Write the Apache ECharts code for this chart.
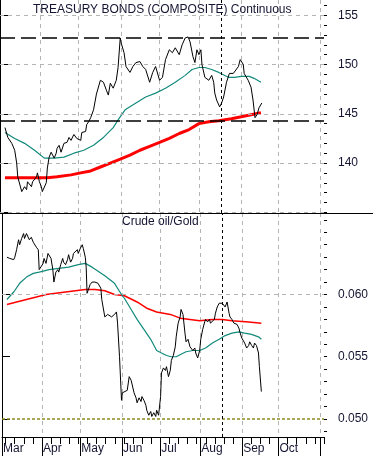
<!DOCTYPE html>
<html><head><meta charset="utf-8">
<script src="https://cdn.jsdelivr.net/npm/echarts@6/dist/echarts.min.js"></script>
<style>html,body{margin:0;padding:0;background:#fff}#c{width:373px;height:457px}</style>
</head><body><div id="c"></div>
<script>
// ---- x categories: weekday sessions from 2012-03-01 ----
const sessionStart = [2012, 2, 1];
const sessionCount = 178;
const monthNames = ['Jan','Feb','Mar','Apr','May','Jun','Jul','Aug','Sep','Oct','Nov','Dec'];
const labelledMonths = ['Mar','Apr','May','Jun','Jul','Aug','Sep','Oct'];
const markerDate = '2012-08-17';

// ---- Treasury bonds (composite) ----
const bondX = [2.71,4.28,6.45,8.03,9.11,9.70,11.87,12.37,13.45,14.53,15.03,17.19,17.79,19.95,20.45,21.53,22.62,23.11,24.19,25.28,25.87,26.85,27.94,28.53,29.61,30.70,31.19,32.27,33.36,34.94,36.61,37.70,38.78,40.36,41.93,44.10,44.69,45.78,46.76,47.35,48.44,49.52,51.10,52.68,54.84,56.52,58.10,59.18,60.27,61.84,63.52,64.50,65.69,66.18,67.76,68.84,71.01,72.59,74.26,76.43,78.01,79.58,81.75,83.43,85.00,87.17,88.75,90.42,92.50,94.17,95.75,97.92,99.49,101.17,102.75,103.83,105.41,106.49,107.57,108.66,109.74,110.33,111.91,114.08,115.66,116.74,117.33,118.32,119.99,121.08,122.16,123.74,125.31,127.48,128.07,130.24,131.23,132.90,133.39,135.57,137.14,138.22,139.31,140.39,141.48,143.05];
const bondY = [143.6,142.6,142.0,141.3,140.0,138.6,137.1,137.0,137.6,137.3,138.1,137.6,138.1,138.6,139.0,138.1,137.6,137.1,137.3,138.0,139.5,140.6,141.1,141.3,140.5,141.0,141.5,141.8,141.1,142.0,142.1,142.6,142.3,142.9,142.5,142.3,143.1,142.9,143.2,143.9,144.2,144.6,145.4,147.0,148.4,148.2,147.4,146.9,148.1,147.6,148.4,149.7,152.7,152.2,151.2,149.8,149.2,149.8,150.2,150.3,149.8,149.5,148.2,149.2,149.8,148.4,148.7,150.5,151.5,151.2,151.7,151.0,152.0,152.7,152.8,152.3,150.8,150.2,151.5,151.0,151.5,150.0,148.7,148.4,148.9,148.2,147.1,146.4,145.7,146.1,146.7,148.2,149.1,149.1,149.2,149.8,150.5,150.0,149.1,148.4,147.7,146.4,144.6,144.9,145.6,146.1];
const bondMa50X = [2.71,8.03,13.45,18.87,24.19,29.61,34.94,40.36,45.78,51.10,56.52,61.84,64.60,68.35,74.26,79.58,85.00,90.42,95.75,101.17,104.91,108.66,111.91,115.66,119.50,124.82,128.07,131.82,136.16,138.81,142.56];
const bondMa50Y = [143.1,142.5,142.0,141.3,140.5,140.5,140.6,141.0,141.3,141.8,142.6,143.6,144.4,145.4,146.1,146.7,147.1,147.6,148.2,148.9,149.5,149.7,149.7,149.5,149.2,148.7,148.7,148.8,148.8,148.6,148.2];
const bondMa200X = [2.71,9.70,20.45,25.87,31.19,38.78,44.10,49.52,54.84,60.27,65.69,71.01,76.43,81.75,87.17,92.50,97.92,103.33,108.66,114.08,119.50,126.40,131.82,137.14,142.56];
const bondMa200Y = [138.5,138.5,138.5,138.5,138.6,138.8,139.0,139.2,139.6,140.0,140.4,140.8,141.3,141.7,142.1,142.5,143.0,143.4,144.0,144.2,144.3,144.5,144.7,144.9,145.1];
const bondLevels = [152.7, 144.3];
const bondGrid = [135,140,145,150,155];
const bondLabels = [140,145,150,155];
const bondMinor = [135,136,137,138,139,140,141,142,143,144,145,146,147,148,149,150,151,152,153,154,155,156];
const bondRange = [134.93, 156.55];

// ---- Crude oil / Gold ----
const ratioX = [2.71,4.28,6.45,7.04,8.03,9.11,9.70,10.79,11.87,12.37,13.45,14.53,15.03,16.11,17.19,18.87,19.95,20.45,21.53,22.62,23.11,24.19,25.28,25.87,26.95,27.94,28.53,29.61,30.70,31.19,32.27,33.36,33.85,34.94,36.02,36.61,37.70,38.78,39.27,40.36,41.44,41.93,43.02,44.10,44.69,45.78,46.27,46.76,47.35,48.44,49.52,51.10,52.77,54.35,54.84,56.52,58.10,60.27,61.84,62.93,63.52,64.60,65.69,66.18,67.26,68.84,69.92,71.01,72.59,73.67,74.26,75.35,76.43,76.92,78.01,79.09,79.58,80.67,81.75,82.34,83.43,84.51,85.00,86.09,87.17,87.67,88.75,89.83,90.42,91.51,92.50,93.09,94.17,95.25,95.75,96.83,97.92,98.41,99.49,100.58,101.17,102.25,103.33,104.91,105.99,106.49,107.57,108.66,109.25,110.33,111.42,111.91,112.99,114.08,114.57,115.66,116.74,117.33,118.32,119.40,119.99,121.08,122.16,122.65,123.74,124.82,125.31,126.40,127.48,128.07,129.16,130.24,130.73,131.82,132.90,133.39,134.48,135.57,136.16,137.24,138.22,138.81,139.90,140.98,141.48,142.56];
const ratioY = [0.0630,0.0629,0.0628,0.0630,0.0636,0.0644,0.0640,0.0645,0.0649,0.0645,0.0649,0.0650,0.0644,0.0646,0.0642,0.0638,0.0636,0.0620,0.0621,0.0625,0.0629,0.0625,0.0633,0.0634,0.0629,0.0620,0.0610,0.0618,0.0620,0.0618,0.0624,0.0629,0.0626,0.0624,0.0628,0.0632,0.0626,0.0629,0.0633,0.0632,0.0636,0.0633,0.0637,0.0640,0.0637,0.0630,0.0622,0.0601,0.0600,0.0608,0.0610,0.0610,0.0609,0.0605,0.0596,0.0582,0.0584,0.0582,0.0584,0.0586,0.0577,0.0550,0.0515,0.0521,0.0522,0.0523,0.0534,0.0531,0.0521,0.0517,0.0513,0.0517,0.0514,0.0518,0.0515,0.0511,0.0507,0.0503,0.0506,0.0502,0.0505,0.0502,0.0507,0.0503,0.0518,0.0537,0.0541,0.0539,0.0542,0.0534,0.0539,0.0547,0.0551,0.0558,0.0566,0.0577,0.0582,0.0588,0.0584,0.0569,0.0562,0.0564,0.0558,0.0555,0.0557,0.0553,0.0549,0.0555,0.0564,0.0572,0.0578,0.0580,0.0578,0.0580,0.0577,0.0576,0.0580,0.0585,0.0590,0.0593,0.0594,0.0593,0.0594,0.0590,0.0594,0.0585,0.0582,0.0580,0.0577,0.0578,0.0576,0.0573,0.0570,0.0565,0.0564,0.0561,0.0557,0.0559,0.0562,0.0559,0.0557,0.0561,0.0559,0.0553,0.0542,0.0522];
const ratioMa50X = [2.71,6.45,9.70,13.45,17.19,20.45,25.87,31.19,36.61,41.93,45.78,49.52,56.52,61.84,65.69,67.26,71.01,74.26,78.01,81.75,85.00,87.67,90.42,93.09,95.75,98.41,101.17,104.91,108.66,111.91,115.66,119.40,122.65,126.40,130.24,133.39,137.14,140.98,142.56];
const ratioMa50Y = [0.0596,0.0602,0.0609,0.0614,0.0617,0.0618,0.0620,0.0621,0.0622,0.0624,0.0625,0.0622,0.0615,0.0609,0.0600,0.0597,0.0588,0.0580,0.0572,0.0564,0.0555,0.0553,0.0551,0.0550,0.0550,0.0552,0.0554,0.0555,0.0555,0.0557,0.0561,0.0564,0.0567,0.0569,0.0570,0.0569,0.0568,0.0566,0.0564];
const ratioMa200X = [2.71,8.03,13.45,18.87,24.19,29.61,34.94,40.36,45.78,51.10,56.52,61.84,67.26,74.26,79.58,85.00,92.50,97.92,103.33,108.66,115.66,121.08,126.40,135.57,142.56];
const ratioMa200Y = [0.0592,0.0594,0.0596,0.0598,0.0600,0.0601,0.0602,0.0603,0.0604,0.0604,0.0603,0.0600,0.0599,0.0594,0.0589,0.0586,0.0584,0.0581,0.0580,0.0579,0.0580,0.0580,0.0579,0.0578,0.0577];
const ratioGrid = [0.055, 0.060];
const ratioFloor = 0.050;
const ratioLabels = [0.050, 0.055, 0.060];
const ratioMinor = [0.049,0.050,0.051,0.052,0.053,0.054,0.055,0.056,0.057,0.058,0.059,0.060,0.061,0.062,0.063,0.064,0.065,0.066];
const ratioRange = [0.04855, 0.06655];

// ---- build ----
const cats = [];
{
  const d = new Date(Date.UTC(sessionStart[0], sessionStart[1], sessionStart[2]));
  while (cats.length < sessionCount) {
    const w = d.getUTCDay();
    if (w !== 0 && w !== 6) cats.push(d.toISOString().slice(0, 10));
    d.setUTCDate(d.getUTCDate() + 1);
  }
}
const monthOf = (s) => monthNames[parseInt(s.slice(5, 7), 10) - 1];
const isMonthStart = (i) => i === 0 || cats[i].slice(5, 7) !== cats[i - 1].slice(5, 7);
const isLabelled = (i) => isMonthStart(i) && labelledMonths.indexOf(monthOf(cats[i])) >= 0;
const isMonday = (i) => new Date(cats[i] + 'T00:00:00Z').getUTCDay() === 1;
const markerIdx = cats.indexOf(markerDate);
const zip = (xs, ys) => xs.map((x, i) => [x, ys[i]]);

const FONT = '"Liberation Sans", Arial, sans-serif';
const TXT = '#141432';
const GRID_GRAY = '#b4b4b4';
const TEAL = '#128a7c';
const RED = '#ff0000';

const gridLine = { color: GRID_GRAY, type: [4, 4], width: 1 };
const noLabel = { show: false };

function lineSeries(name, xi, yi, xs, ys, color, width, z, extra) {
  return Object.assign({
    name, type: 'line', xAxisIndex: xi, yAxisIndex: yi, data: zip(xs, ys),
    showSymbol: false, symbol: 'none', animation: false, silent: true, z,
    lineStyle: { color, width }
  }, extra || {});
}

const vMarker = {
  silent: true, symbol: ['none', 'none'], animation: false, label: noLabel,
  lineStyle: { color: '#000', type: [3, 3], width: 1 },
  data: [{ xAxis: markerIdx }]
};

const option = {
  animation: false,
  backgroundColor: '#fff',
  title: [
    { text: 'TREASURY BONDS (COMPOSITE) Continuous', left: 33, top: 4, padding: 0,
      textStyle: { fontFamily: FONT, fontSize: 12, fontWeight: 'normal', color: TXT } },
    { text: 'Crude oil/Gold', left: 122, top: 216, padding: 0,
      textStyle: { fontFamily: FONT, fontSize: 12, fontWeight: 'normal', color: TXT } }
  ],
  grid: [
    { left: -5, right: 49, top: 0, height: 213 },
    { left: -5, right: 49, top: 213, height: 224 }
  ],
  xAxis: [
    { type: 'value', gridIndex: 0, min: 0, max: sessionCount - 1, show: false, position: 'bottom' },
    { type: 'category', gridIndex: 0, data: cats, boundaryGap: false, position: 'bottom',
      axisLine: { show: false }, axisTick: { show: false }, axisLabel: { show: false },
      splitLine: { show: true, interval: (i) => isMonthStart(i), lineStyle: gridLine } },
    { type: 'value', gridIndex: 1, min: 0, max: sessionCount - 1, show: false, position: 'bottom' },
    { type: 'category', gridIndex: 1, data: cats, boundaryGap: false, position: 'bottom',
      axisLine: { show: true, lineStyle: { color: '#000', width: 1 } },
      axisTick: { show: true, interval: (i) => isMonthStart(i), length: 19, lineStyle: { color: '#000', width: 1 } },
      axisLabel: { show: true, interval: (i) => isLabelled(i), align: 'left', margin: 6, padding: [0, 0, 0, 1],
        fontFamily: FONT, fontSize: 12, color: TXT,
        formatter: (v) => monthOf(v) },
      splitLine: { show: true, interval: (i) => isMonthStart(i), lineStyle: gridLine } },
    { type: 'category', gridIndex: 1, data: cats, boundaryGap: false, position: 'bottom',
      axisLine: { show: false },
      axisTick: { show: true, interval: (i) => isMonday(i), length: 7, lineStyle: { color: '#000', width: 1 } },
      axisLabel: { show: false }, splitLine: { show: false } }
  ],
  yAxis: [
    { type: 'value', gridIndex: 0, position: 'right', min: bondRange[0], max: bondRange[1],
      axisLine: { show: true, lineStyle: { color: '#000', width: 1 } },
      axisTick: { show: true, customValues: bondGrid, length: 8, lineStyle: { color: '#000' } },
      axisLabel: { show: true, customValues: bondLabels, margin: 14, fontFamily: FONT, fontSize: 12, color: TXT,
        formatter: (v) => String(Math.round(v)) },
      splitLine: { show: false } },
    { type: 'value', gridIndex: 0, position: 'right', min: bondRange[0], max: bondRange[1],
      axisLine: { show: false },
      axisTick: { show: true, customValues: bondMinor, length: 3, lineStyle: { color: '#000' } },
      axisLabel: { show: false }, splitLine: { show: false } },
    { type: 'value', gridIndex: 1, position: 'right', min: ratioRange[0], max: ratioRange[1],
      axisLine: { show: true, lineStyle: { color: '#000', width: 1 } },
      axisTick: { show: true, customValues: ratioLabels, length: 8, lineStyle: { color: '#000' } },
      axisLabel: { show: true, customValues: ratioLabels, margin: 14, fontFamily: FONT, fontSize: 12, color: TXT,
        formatter: (v) => v.toFixed(3) },
      splitLine: { show: false } },
    { type: 'value', gridIndex: 1, position: 'right', min: ratioRange[0], max: ratioRange[1],
      axisLine: { show: false },
      axisTick: { show: true, customValues: ratioMinor, length: 3, lineStyle: { color: '#000' } },
      axisLabel: { show: false }, splitLine: { show: false } }
  ],
  series: [
    { type: 'line', xAxisIndex: 0, yAxisIndex: 0, data: [], z: 1, silent: true,
      markLine: { silent: true, symbol: ['none', 'none'], animation: false, label: noLabel,
        lineStyle: gridLine, data: bondGrid.map((v) => ({ yAxis: v })) } },
    { type: 'line', xAxisIndex: 2, yAxisIndex: 2, data: [], z: 1, silent: true,
      markLine: { silent: true, symbol: ['none', 'none'], animation: false, label: noLabel,
        data: ratioGrid.map((v) => ({ yAxis: v, lineStyle: gridLine }))
          .concat([{ yAxis: ratioFloor, lineStyle: { color: '#8a8a1e', type: [3, 2], width: 1.5 } }]) } },
    lineSeries('Bond MA200', 0, 0, bondMa200X, bondMa200Y, RED, 3, 3),
    lineSeries('Bond MA50', 0, 0, bondMa50X, bondMa50Y, TEAL, 1.2, 4),
    lineSeries('Treasury Bonds', 0, 0, bondX, bondY, '#000', 1, 5, {
      markLine: {
        silent: true, symbol: ['none', 'none'], animation: false, label: noLabel,
        data: bondLevels.map((v) => ({ yAxis: v, lineStyle: { color: '#000', type: [15, 6], width: 1.5 } }))
          .concat([{ xAxis: markerIdx, lineStyle: { color: '#000', type: [3, 3], width: 1 } }])
      }
    }),
    lineSeries('Ratio MA200', 2, 2, ratioMa200X, ratioMa200Y, RED, 1.5, 3),
    lineSeries('Ratio MA50', 2, 2, ratioMa50X, ratioMa50Y, TEAL, 1.2, 4),
    lineSeries('Crude oil/Gold', 2, 2, ratioX, ratioY, '#000', 1, 5, { markLine: vMarker })
  ],
  graphic: [
    { type: 'line', z: 100, silent: true, shape: { x1: 0, y1: 213.5, x2: 373, y2: 213.5 },
      style: { stroke: '#000', lineWidth: 1 } }
  ]
};

const chart = echarts.init(document.getElementById('c'), null, { renderer: 'canvas' });
chart.setOption(option);
</script>
</body></html>
